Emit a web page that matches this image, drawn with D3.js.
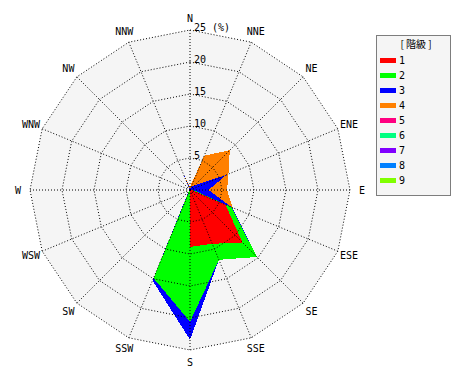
<!DOCTYPE html>
<html>
<head>
<meta charset="utf-8">
<script src="https://cdn.jsdelivr.net/npm/d3@7"></script>
<style>
  body { margin: 0; background: #fff; }
  text { font-family: "DejaVu Sans Mono", monospace; font-size: 10px; fill: #000; }
</style>
</head>
<body>
<svg width="470" height="380"></svg>
<script>
// wind directions, clockwise from north
const directions = ["N","NNE","NE","ENE","E","ESE","SE","SSE","S","SSW","SW","WSW","W","WNW","NW","NNW"];
const classes = ["1","2","3","4","5","6","7","8","9"];
const colors = ["#ff0000","#00ff00","#0000ff","#ff8000","#ff0080","#00ff80","#8000ff","#0080ff","#80ff00"];
const ticks = [5, 10, 15, 20, 25];

// frequency (%) per class, one value per direction
const class1 = [0, 0, 0, 0, 0.3, 6.0, 11.6, 9.1, 8.9, 0, 0, 0, 0, 0, 0, 0];
const class2 = [0, 0, 0, 0.2, 0.2, 1.0, 3.2, 2.7, 11.7, 14.9, 0.2, 0, 0, 0, 0, 0];
const class3 = [0.2, 0.5, 1.1, 5.9, 2.4, 0.1, 0, 0, 2.8, 0.4, 0.1, 0, 0, 0, 0, 2.9];
const class4 = [0.3, 5.3, 7.7, 0.4, 2.9, 0.1, 0, 0, 0, 0, 0, 0, 0, 0, 0, 0];
const class5 = [0, 0, 0, 0, 0, 0, 0, 0, 0, 0, 0, 0, 0, 0, 0, 0];
const class6 = [0, 0, 0, 0, 0, 0, 0, 0, 0, 0, 0, 0, 0, 0, 0, 0];
const class7 = [0, 0, 0, 0, 0, 0, 0, 0, 0, 0, 0, 0, 0, 0, 0, 0];
const class8 = [0, 0, 0, 0, 0, 0, 0, 0, 0, 0, 0, 0, 0, 0, 0, 0];
const class9 = [0, 0, 0, 0, 0, 0, 0, 0, 0, 0, 0, 0, 0, 0, 0, 0];

const series = [class1, class2, class3, class4, class5, class6, class7, class8, class9];

const rows = directions.map((d, i) => {
  const row = { dir: d };
  classes.forEach((c, k) => row[c] = series[k][i]);
  return row;
});

const svg = d3.select("svg");
const cx = 190, cy = 190, R = 160;

const r = d3.scaleLinear().domain([0, 25]).range([0, R]);
const angle = d3.scaleLinear().domain([0, directions.length]).range([0, 2 * Math.PI]);

const g = svg.append("g").attr("transform", `translate(${cx},${cy})`);

const ring = d3.lineRadial()
  .angle((d, i) => angle(i))
  .radius(d => r(d))
  .curve(d3.curveLinearClosed);

// plot background
g.append("path")
  .attr("d", ring(directions.map(() => 25)))
  .attr("fill", "#f5f5f5");

// stacked layers, outermost first
const stacked = d3.stack().keys(classes)(rows);
const area = d3.lineRadial()
  .angle((d, i) => angle(i))
  .radius(d => r(d[1]))
  .curve(d3.curveLinearClosed);

g.append("g").selectAll("path")
  .data(stacked.slice().reverse())
  .join("path")
  .attr("d", d => area(d))
  .attr("fill", d => colors[d.index])
  .attr("shape-rendering", "crispEdges");

// grid
const grid = g.append("g")
  .attr("fill", "none")
  .attr("stroke", "#000")
  .attr("stroke-width", 1)
  .attr("stroke-dasharray", "1 2");

grid.selectAll("path")
  .data(ticks)
  .join("path")
  .attr("d", t => ring(directions.map(() => t)));

grid.selectAll("line")
  .data(directions)
  .join("line")
  .attr("x1", 0).attr("y1", 0)
  .attr("x2", (d, i) => r(25) * Math.sin(angle(i)))
  .attr("y2", (d, i) => -r(25) * Math.cos(angle(i)));

// tick labels along the north axis
g.append("g").selectAll("text")
  .data(ticks)
  .join("text")
  .attr("x", 4)
  .attr("y", t => -r(t) + 0.5)
  .text(t => t);

g.append("text")
  .attr("x", 22)
  .attr("y", -r(25) + 0.5)
  .text("(%)");

// direction labels
g.append("g").selectAll("text")
  .data(directions)
  .join("text")
  .attr("x", (d, i) => 172 * Math.sin(angle(i)))
  .attr("y", (d, i) => -172 * Math.cos(angle(i)))
  .attr("text-anchor", "middle")
  .attr("dy", "0.35em")
  .text(d => d);

// legend
const lg = svg.append("g").attr("transform", "translate(376,35)");
lg.append("rect")
  .attr("x", 0.5).attr("y", 0.5)
  .attr("width", 74).attr("height", 160)
  .attr("fill", "#f5f5f5")
  .attr("stroke", "#000")
  .attr("stroke-dasharray", "1 1");

lg.append("text")
  .attr("x", 40)
  .attr("y", 13)
  .attr("text-anchor", "middle")
  .style("font-family", "'Noto Sans CJK JP'")
  .style("font-size", "10px")
  .text("[ 階級 ]");

const item = lg.selectAll("g.item")
  .data(classes)
  .join("g")
  .attr("class", "item")
  .attr("transform", (d, i) => `translate(0,${25 + i * 15})`);

item.append("rect")
  .attr("x", 4).attr("y", -2)
  .attr("width", 16).attr("height", 5)
  .attr("fill", (d, i) => colors[i]);

item.append("text")
  .attr("x", 23)
  .attr("y", 4)
  .text(d => d);
</script>
</body>
</html>
